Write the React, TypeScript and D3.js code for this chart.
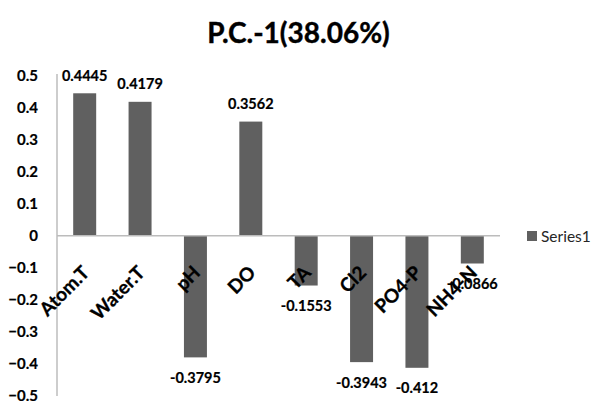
import React from "react";
import * as d3 from "d3";

const categories = ["Atom.T", "Water.T", "pH", "DO", "TA", "Cl2", "PO4-P", "NH4-N"];
const values = [0.4445, 0.4179, -0.3795, 0.3562, -0.1553, -0.3943, -0.412, -0.0866];
const valueLabels = ["0.4445", "0.4179", "-0.3795", "0.3562", "-0.1553", "-0.3943", "-0.412", "-0.0866"];
const yTicks = [0.5, 0.4, 0.3, 0.2, 0.1, 0, -0.1, -0.2, -0.3, -0.4, -0.5];
const title = "P.C.-1(38.06%)";
const seriesName = "Series1";

const W = 600;
const H = 411;
const plotLeft = 57;
const plotRight = 500;
const FONT = "Lato, 'Open Sans', sans-serif";
const BAR = "#606060";
const AXIS = "#bcbcbc";

export default function App() {
  const x = d3.scaleBand<string>().domain(categories).range([plotLeft, plotRight]).paddingInner(0.585).paddingOuter(0.2925);
  const y = d3.scaleLinear().domain([-0.5, 0.5]).range([396, 75.5]);
  const y0 = y(0);
  const bw = x.bandwidth();

  return (
    <svg width={W} height={H} style={{ position: "absolute", left: 0, top: 0, background: "#fff" }} fontFamily={FONT}>
      <text x={298.5} y={43} textAnchor="middle" fontSize={28} fontWeight={700} fill="#000" stroke="#000" strokeWidth={0.4}>{title}</text>

      {/* y axis line */}
      <line x1={plotLeft} x2={plotLeft} y1={y(0.5) - 1.5} y2={y(-0.5)} stroke={AXIS} strokeWidth={1.5} />
      {yTicks.map((t) => (
        <text key={t} x={38} y={y(t)} dy="0.36em" textAnchor="end" fontSize={15} fontWeight={700} fill="#000" stroke="#000" strokeWidth={0.2}>
          {d3.format("")(t)}
        </text>
      ))}

      {/* bars */}
      {values.map((v, i) => {
        const c = categories[i];
        const bx = x(c)!;
        return (
          <rect key={c} x={bx} width={bw} y={Math.min(y(v), y0)} height={Math.abs(y(v) - y0)} fill={BAR} />
        );
      })}

      {/* zero line */}
      <line x1={plotLeft} x2={plotRight} y1={y0} y2={y0} stroke={AXIS} strokeWidth={1.5} />

      {/* category labels */}
      {categories.map((c) => {
        const cx = x(c)! + bw / 2;
        return (
          <text key={c} transform={`translate(${cx + 6},${274}) rotate(-45)`} textAnchor="end" fontSize={19} fontWeight={700} fill="#000" stroke="#000" strokeWidth={0.3}>
            {c}
          </text>
        );
      })}

      {/* data labels */}
      {values.map((v, i) => {
        const c = categories[i];
        const cx = x(c)! + bw / 2;
        const ly = v >= 0 ? y(v) - 12.5 : y(v) + 25.5;
        return (
          <text key={c} x={cx} y={ly} textAnchor="middle" fontSize={14.5} fontWeight={700} fill="#000" stroke="#000" strokeWidth={0.2}>
            {valueLabels[i]}
          </text>
        );
      })}

      {/* legend */}
      <rect x={527} y={231} width={10} height={10} fill={BAR} />
      <text x={541} y={236} dy="0.36em" fontSize={15.5} fill="#262626">{seriesName}</text>
    </svg>
  );
}
